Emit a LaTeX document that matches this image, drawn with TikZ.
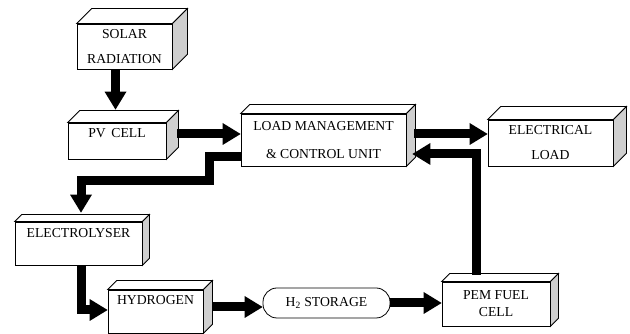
\documentclass[tikz,border=0pt]{standalone}
\usepackage{fontspec}
\setmainfont{Liberation Serif}
\usetikzlibrary{arrows.meta,calc}
\definecolor{SideGray}{HTML}{CFCFCF}
\newcommand{\boxfont}{\fontsize{13.7}{16}\selectfont}
\tikzset{
  box/.style={draw,fill=white,line width=0.8pt,align=center,inner sep=3pt,font=\boxfont},
  roundbox/.style={draw,fill=white,line width=0.8pt,rounded corners=14pt,align=center,
              inner sep=3pt,font=\boxfont},
  topface/.style={draw,fill=white,line width=0.8pt},
  sideface/.style={draw,fill=SideGray,line width=0.8pt},
  flow/.style={-{Triangle[length=18pt,width=22pt,line width=0pt]},line width=9pt}
}
\begin{document}
\begin{tikzpicture}[x=1pt,y=1pt]
  \useasboundingbox (0,0) rectangle (630,334);
  \node[box,minimum width=95pt,minimum height=45pt] (solar) at (124.5,287.5) {SOLAR\\[9pt]RADIATION};
  \node[box,minimum width=98pt,minimum height=36pt,text height=12pt,text depth=18pt] (pv) at (117,193) {PV\, CELL};
  \node[box,minimum width=165pt,minimum height=52pt] (load) at (323.5,194) {LOAD MANAGEMENT\\[12pt]\& CONTROL UNIT};
  \node[box,minimum width=125pt,minimum height=46pt] (elecload) at (550.5,191) {ELECTRICAL\\[9pt]LOAD};
  \node[box,minimum width=127pt,minimum height=43pt,text height=12.5pt,text depth=24.5pt] (electrolyser) at (78.5,90.5) {ELECTROLYSER};
  \node[box,minimum width=95pt,minimum height=43pt,text height=11.5pt,text depth=25.5pt] (hydrogen) at (155.5,22.5) {HYDROGEN};
  \node[roundbox,minimum width=127pt,minimum height=30pt] (storage) at (326.5,31) {H\textsubscript{2} STORAGE};
  \node[box,minimum width=108pt,minimum height=44pt] (pem) at (496,30) {PEM FUEL\\[1pt]CELL};

  % top and side faces of the boxes
  \foreach \n/\d in {solar/15,pv/12,load/9,elecload/13,electrolyser/7,hydrogen/9,pem/8} {
    \draw[topface] (\n.north west) -- ++(\d,\d) -- ([shift={(\d,\d)}]\n.north east) -- (\n.north east) -- cycle;
    \draw[sideface] (\n.north east) -- ++(\d,\d) -- ([shift={(\d,\d)}]\n.south east) -- (\n.south east) -- cycle;
  }

  \draw[flow] ([xshift=-9pt]solar.south) -- ([xshift=-9pt,yshift=13pt]solar.south |- pv.north);
  \draw[flow] ([xshift=11pt,yshift=7pt]pv.east) -- ([yshift=7pt]pv.east -| load.west);
  \draw[flow] ([xshift=8pt,yshift=6pt]load.east) -- ([yshift=6pt]load.east -| elecload.west);
  \draw[flow] ([xshift=-20pt,yshift=7pt]pem.north) |- ([xshift=6pt,yshift=-14pt]load.east);
  \draw[flow] ([yshift=-17pt]load.west) -- ++(-31,0) -- ++(0,-24) -| ([xshift=2.5pt,yshift=9pt]electrolyser.north);
  \draw[flow] ([xshift=2.5pt]electrolyser.south) |- ([yshift=1.5pt]hydrogen.west);
  \draw[flow] ([xshift=9pt,yshift=4.5pt]hydrogen.east) -- ([yshift=4.5pt]hydrogen.east -| storage.west);
  \draw[flow] (storage.east) -- (storage.east -| pem.west);
\end{tikzpicture}
\end{document}
